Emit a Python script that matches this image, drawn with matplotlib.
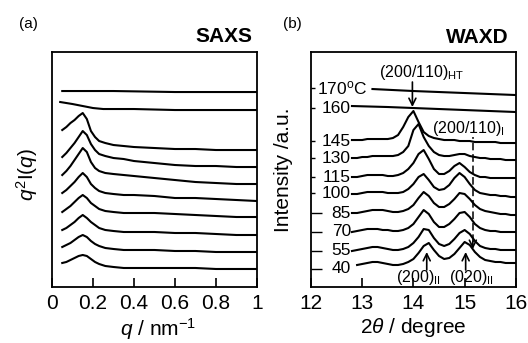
import numpy as np
import matplotlib.pyplot as plt

plt.rcParams['font.family'] = ['Liberation Sans', 'DejaVu Sans']
plt.rcParams['mathtext.fontset'] = 'custom'
plt.rcParams['mathtext.rm'] = 'Liberation Sans'
plt.rcParams['mathtext.it'] = 'Liberation Sans:italic'
plt.rcParams['mathtext.bf'] = 'Liberation Sans:bold'

# ---- SAXS data (offset curves, arbitrary units) ----
q = [0.05, 0.07, 0.09, 0.11, 0.13, 0.15, 0.17, 0.19, 0.21, 0.23,
     0.26, 0.30, 0.35, 0.40, 0.50, 0.60, 0.70, 0.80, 0.90, 1.00]
s145 = [157, 160, 164, 167, 171, 174, 168, 156, 150, 146, 144, 142, 141, 140, 139, 138, 138, 137, 137, 137]
s130 = [130, 134, 139, 144, 150, 156, 152, 143, 137, 133, 131, 129, 128, 126, 124, 122, 121, 121, 120, 120]
s115 = [112, 116, 121, 127, 133, 139, 135, 125, 119, 116, 114, 113, 112, 111, 109, 107, 105, 104, 103, 103]
s100 = [94, 97, 101, 105, 110, 114, 110, 103, 99, 96, 94, 93, 92, 92, 91, 89, 89, 88, 87, 86]
s85 = [75, 78, 81, 85, 89, 92, 89, 84, 81, 78, 76, 75, 74, 74, 74, 73, 72, 71, 70, 70]
s70 = [57, 59, 62, 65, 69, 72, 69, 65, 62, 59, 57, 56, 55, 55, 55, 54, 54, 53, 52, 52]
s55 = [40, 42, 44, 47, 50, 52, 50, 46, 43, 41, 39, 38, 37, 37, 37, 36, 36, 35, 35, 35]
s40 = [24, 25, 27, 29, 31, 32, 31, 28, 25, 23, 21, 20, 19, 19, 19, 19, 19, 18, 18, 18]
q160 = [0.04, 0.10, 0.15, 0.20, 0.25, 0.40, 0.60, 1.00]
s160 = [185, 183, 181, 179, 178, 178, 177, 177]
q170 = [0.05, 0.30, 0.60, 1.00]
s170 = [196, 196, 195, 195]

# ---- WAXD data ----
tt = [12.8, 12.9, 13.0, 13.1, 13.2, 13.3, 13.4, 13.5, 13.6, 13.7, 13.8,
      13.9, 14.0, 14.1, 14.2, 14.3, 14.4, 14.5, 14.6, 14.7, 14.8, 14.9,
      15.0, 15.1, 15.2, 15.3, 15.4, 15.5, 15.6, 15.7, 15.8, 15.9, 16.0]
w145 = [147, 147, 147, 148, 148, 148, 148, 148, 149, 152, 160, 170, 176, 165, 155, 151, 149,
        148, 147, 147, 147, 146, 146, 146, 145, 145, 145, 145, 145, 144, 144, 144, 144]
w130 = [129, 129, 130, 130, 131, 131, 131, 131, 131, 132, 135, 141, 157, 163, 150, 141, 135,
        132, 131, 131, 132, 133, 133, 131, 130, 129, 129, 128, 128, 128, 127, 127, 127]
w115 = [110, 110, 111, 112, 112, 112, 112, 111, 111, 112, 114, 118, 124, 133, 137, 128, 118,
        113, 113, 116, 121, 124, 120, 115, 112, 110, 110, 109, 109, 109, 109, 109, 109]
w100 = [93, 93, 94, 95, 95, 95, 95, 94, 94, 94, 95, 98, 103, 110, 113, 107, 100,
        97, 98, 102, 109, 114, 110, 103, 97, 94, 93, 92, 92, 91, 91, 90, 90]
w85 = [74, 74, 75, 76, 77, 77, 77, 76, 75, 75, 76, 78, 82, 89, 95, 91, 84,
       80, 80, 83, 88, 94, 93, 88, 82, 78, 76, 75, 74, 73, 73, 72, 72]
w70 = [55, 56, 57, 58, 58, 58, 57, 57, 56, 56, 57, 59, 63, 70, 77, 73, 65,
       60, 60, 63, 68, 74, 75, 70, 63, 59, 57, 56, 56, 55, 55, 55, 55]
w55 = [36, 37, 38, 39, 40, 40, 39, 38, 37, 37, 38, 40, 44, 50, 58, 57, 49,
       43, 41, 43, 48, 54, 57, 53, 46, 41, 39, 38, 38, 37, 37, 37, 37]
w40 = [np.nan, 22, 23, 24, 25, 25, 24, 23, 22, 22, 23, 25, 28, 34, 41, 44, 37,
       31, 28, 29, 33, 39, 45, 42, 35, 30, 27, 26, 25, 25, 24, 24, 24]
tt160 = [12.8, 13.5, 14.5, 16.0]
w160 = [181, 180, 178, 175]
tt170 = [13.2, 14.0, 15.0, 16.0]
w170 = [198, 196, 194, 192]

temp_labels = ['170$^{\\mathregular{o}}$C', '160', '145', '130', '115', '100', '85', '70', '55', '40']
temp_pos = [199, 179, 146, 129, 110, 94, 74, 55, 36, 18]

lw = 1.5
fs_tick = 15
fs_in = 11.5
fs_temp = 12.5

fig = plt.figure(figsize=(5.28, 3.43), dpi=100)
ax1 = fig.add_axes([0.0985, 0.1633, 0.388, 0.685])
ax2 = fig.add_axes([0.589, 0.1633, 0.388, 0.685])

# (a) SAXS
ax1.plot(q170, s170, color='black', lw=lw)
ax1.plot(q160, s160, color='black', lw=lw)
for s in [s145, s130, s115, s100, s85, s70, s55, s40]:
    ax1.plot(q, s, color='black', lw=lw)
ax1.set_xlim(0, 1)
ax1.set_ylim(0, 235)
ax1.set_xticks([0, 0.2, 0.4, 0.6, 0.8, 1])
ax1.set_xticklabels(['0', '0.2', '0.4', '0.6', '0.8', '1'])
ax1.set_yticks([])
ax1.set_xlabel('$q$ / nm$^{\\mathregular{-1}}$', fontsize=fs_tick)
ax1.xaxis.set_label_coords(0.52, -0.125)
ax1.set_ylabel('$q^{\\mathregular{2}}$I($q$)', fontsize=fs_tick)
ax1.yaxis.set_label_coords(-0.06, 0.48)
ax1.text(0.976, 1.064, 'SAXS', transform=ax1.transAxes, ha='right', va='center',
         fontsize=15, fontweight='bold')

# (b) WAXD
ax2.plot(tt170, w170, color='black', lw=lw)
ax2.plot(tt160, w160, color='black', lw=lw)
for w in [w145, w130, w115, w100, w85, w70, w55, w40]:
    ax2.plot(tt, w, color='black', lw=lw)
ax2.set_xlim(12, 16)
ax2.set_ylim(0, 235)
ax2.set_xticks([12, 13, 14, 15, 16])
ax2.set_yticks(temp_pos[:6])
ax2.set_yticks(temp_pos[6:], minor=True)
ax2.set_yticklabels([])
ax2.tick_params(axis='y', which='major', direction='in', length=3, width=1)
ax2.tick_params(axis='y', which='minor', direction='in', length=8, width=1)
for i, (lab, h) in enumerate(zip(temp_labels, temp_pos)):
    if i == 0:
        ax2.text(12.11, h, lab, ha='left', va='center', fontsize=fs_temp)
    else:
        ax2.text(12.78, h, lab, ha='right', va='center', fontsize=fs_temp)
ax2.set_xlabel('2$\\theta$ / degree', fontsize=fs_tick)
ax2.xaxis.set_label_coords(0.5, -0.125)
ax2.set_ylabel('Intensity /a.u.', fontsize=fs_tick)
ax2.yaxis.set_label_coords(-0.09, 0.5)
ax2.text(0.966, 1.06, 'WAXD', transform=ax2.transAxes, ha='right', va='center',
         fontsize=15, fontweight='bold')

# annotations
arr = dict(arrowstyle='->,head_length=0.5,head_width=0.25', lw=1.2, color='black',
           shrinkA=0, shrinkB=0)
ax2.text(14.17, 210, '(200/110)$_{\\mathregular{HT}}$', ha='center', va='baseline', fontsize=fs_in)
ax2.annotate('', xy=(13.98, 180), xytext=(13.98, 205), arrowprops=arr)
ax2.text(15.08, 154, '(200/110)$_{\\mathregular{I}}$', ha='center', va='baseline', fontsize=fs_in)
ax2.vlines(15.16, 45, 150, colors='black', lw=1.1, linestyles=(0, (5, 2.5)))
ax2.annotate('', xy=(15.16, 38), xytext=(15.16, 46), arrowprops=arr)
ax2.annotate('', xy=(14.26, 35), xytext=(14.26, 17), arrowprops=arr)
ax2.annotate('', xy=(15.02, 35), xytext=(15.02, 17), arrowprops=arr)
ax2.text(14.09, 5, '(200)$_{\\mathregular{II}}$', ha='center', va='baseline', fontsize=fs_in)
ax2.text(15.13, 5, '(020)$_{\\mathregular{II}}$', ha='center', va='baseline', fontsize=fs_in)

for ax in (ax1, ax2):
    for sp in ax.spines.values():
        sp.set_linewidth(1.3)
    ax.tick_params(axis='x', direction='in', length=6.5, width=1.2, labelsize=fs_tick,
                   pad=5, top=False)

fig.text(0.053, 0.93, '(a)', ha='center', va='center', fontsize=11)
fig.text(0.553, 0.93, '(b)', ha='center', va='center', fontsize=11)

fig.savefig('out.png', dpi=100)
